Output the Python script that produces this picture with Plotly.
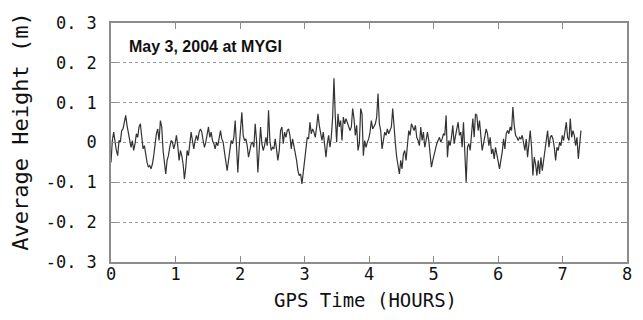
import plotly.graph_objects as go

# ---- data ----
SAMPLE_STEP_HOURS = 0.0207   # spacing between plotted epochs

height_part1 = [
    -0.050, 0.005, 0.026, -0.003, -0.020, -0.033, 0.005, 0.001, 0.030, 0.034,
    0.055, 0.068, 0.043, 0.026, 0.005, -0.012, 0.005, -0.020, -0.003, 0.022,
    0.013, 0.039, 0.047, 0.018, -0.016, -0.008, -0.037, -0.050, -0.062, -0.058,
    -0.066, -0.054, -0.033, -0.003, 0.022, 0.034, 0.005, 0.055, 0.039, -0.020,
    -0.045, -0.079, -0.045, -0.033, -0.012, 0.005, 0.001, -0.016, -0.003, 0.018,
    -0.008, -0.045, -0.020, -0.033, -0.054, -0.092, -0.062,
]
height_part2 = [
    -0.020, -0.033, -0.003, 0.026, 0.005, -0.016, 0.005, 0.018, 0.005, 0.026,
    0.034, 0.026, 0.005, -0.012, 0.001, 0.018, 0.039, 0.013, 0.026, 0.005,
    -0.003, -0.016, 0.001, -0.008, 0.018, 0.030, 0.009, 0.001, -0.024, -0.045,
    -0.071, -0.045, -0.012, 0.005, -0.003, 0.013, 0.055, -0.003, -0.075, -0.012,
    0.039, 0.076, 0.018, 0.005, 0.009, -0.008, -0.037, -0.020, -0.003, 0.001,
    -0.012, 0.047, 0.005, -0.075, -0.029, 0.039, -0.003, -0.020, -0.008, 0.013,
]
height_part3 = [
    -0.008, 0.081, 0.005, -0.020, -0.012, -0.016, 0.009, -0.020, -0.045, -0.020,
    0.030, 0.039, -0.003, 0.026, 0.013, 0.030, 0.034, 0.018, -0.016, 0.009,
    -0.008, -0.033, -0.045, -0.071, -0.083, -0.079, -0.104, -0.075, -0.045, -0.020,
    0.013, 0.009, 0.051, 0.022, 0.034, 0.026, 0.013, 0.039, 0.072, 0.043,
    0.026, 0.005, 0.026, -0.008, -0.037, -0.003, 0.018, -0.012, 0.013, 0.064,
    0.161, 0.064, 0.001, 0.072, 0.039, 0.055, 0.005, 0.064, 0.047, 0.060,
]
height_part4 = [
    0.051, 0.039, 0.030, 0.039, 0.085, 0.060, 0.018, 0.043, -0.020, -0.003,
    0.085, 0.072, -0.033, 0.005, -0.012, 0.001, 0.009, 0.026, 0.055, 0.034,
    0.039, 0.047, 0.064, 0.123, 0.047, 0.030, -0.016, 0.013, 0.026, 0.018,
    0.034, 0.022, 0.030, 0.039, 0.085, 0.030, -0.003, -0.037, -0.062, -0.079,
    -0.045, -0.066, -0.029, -0.020, -0.045, 0.001, 0.030, 0.018, 0.047, 0.039,
    0.030, 0.043, 0.013, 0.005, -0.008, 0.039, 0.005, 0.026, -0.012, 0.005,
]
height_part5 = [
    0.026, 0.005, -0.037, -0.062, -0.045, -0.029, -0.016, -0.003, 0.005, 0.013,
    0.001, 0.009, 0.022, 0.018, 0.068, -0.037, 0.005, -0.008, 0.013, 0.043,
    -0.003, 0.022, 0.034, 0.051, 0.018, 0.026, -0.012, 0.051, -0.020, -0.100,
    -0.012, -0.003, -0.020, 0.026, 0.060, 0.013, 0.072, 0.068, 0.030, 0.055,
    0.013, -0.020, -0.003, 0.013, 0.034, 0.022, -0.008, 0.013, -0.029, -0.016,
    -0.041, -0.012, -0.029, -0.054, -0.066, -0.045, -0.024, 0.009, -0.016, 0.022,
]
height_part6 = [
    0.030, 0.022, 0.039, 0.030, 0.089, 0.043, 0.018, 0.013, 0.005, 0.013,
    0.009, 0.018, -0.003, -0.020, 0.009, -0.037, -0.003, 0.030, -0.012, -0.083,
    -0.037, -0.054, -0.083, -0.045, -0.079, -0.037, -0.071, -0.041, -0.012, 0.005,
    0.030, -0.012, 0.013, 0.018, 0.009, -0.012, -0.045, -0.012, -0.020, 0.001,
    -0.008, 0.018, 0.005, 0.026, 0.051, 0.013, 0.005, 0.060, 0.013, 0.030,
    0.018, -0.008, 0.013, -0.041, 0.005, 0.030,
]

x_tick_values = [0, 1, 2, 3, 4, 5, 6, 7, 8]
x_tick_labels = ["0", "1", "2", "3", "4", "5", "6", "7", "8"]
y_tick_values = [0.3, 0.2, 0.1, 0.0, -0.1, -0.2, -0.3]
y_tick_labels = ["0. 3", "0. 2", "0. 1", "0", "-0. 1", "-0. 2", "-0. 3"]

annotation_text = "May 3, 2004 at MYGI"
x_title = "GPS Time (HOURS)"
y_title = "Average Height (m)"

heights = (height_part1 + height_part2 + height_part3 +
           height_part4 + height_part5 + height_part6)
hours = [i * SAMPLE_STEP_HOURS for i in range(len(heights))]

FONT = "DejaVu Sans Mono"
TEXT = "#111111"

fig = go.Figure()
fig.add_trace(go.Scatter(
    x=hours, y=heights, mode="lines",
    line=dict(color="#333333", width=1.2),
    showlegend=False, hoverinfo="skip",
))

axis_common = dict(
    showline=True, linecolor="#8c8c8c", linewidth=1.5, mirror="ticks",
    ticks="inside", ticklen=6, tickcolor="#8c8c8c", tickwidth=1.2,
    zeroline=False, automargin=False,
    tickfont=dict(family=FONT, size=17, color=TEXT),
)

fig.update_xaxes(
    range=[0, 8], tickvals=x_tick_values, ticktext=x_tick_labels,
    showgrid=False, ticklabelstandoff=-4,
    **axis_common,
)
fig.update_yaxes(
    range=[-0.3, 0.3], tickvals=y_tick_values, ticktext=y_tick_labels,
    showgrid=True, gridcolor="#9a9a9a", gridwidth=1, griddash="dot",
    ticklabelstandoff=9,
    **axis_common,
)

fig.add_annotation(
    text=x_title, xref="paper", yref="paper",
    x=0.494, y=-0.158, xanchor="center", yanchor="middle", showarrow=False,
    font=dict(family=FONT, size=19, color=TEXT),
)
fig.add_annotation(
    text=y_title, xref="paper", yref="paper", textangle=-90,
    x=-0.1744, y=0.545, xanchor="center", yanchor="middle", showarrow=False,
    font=dict(family=FONT, size=22, color=TEXT),
)
fig.add_annotation(
    text=annotation_text, xref="paper", yref="paper",
    x=0.031, y=0.90, xanchor="left", yanchor="middle", showarrow=False,
    font=dict(family="Liberation Sans", size=16, color=TEXT, weight="bold"),
)

# the page body adds an 8px margin, so the figure is sized to fit the window
fig.update_layout(
    width=635, height=312,
    margin=dict(l=103, r=16, t=15, b=58),
    paper_bgcolor="white", plot_bgcolor="white",
)

fig.write_html("out.html")
